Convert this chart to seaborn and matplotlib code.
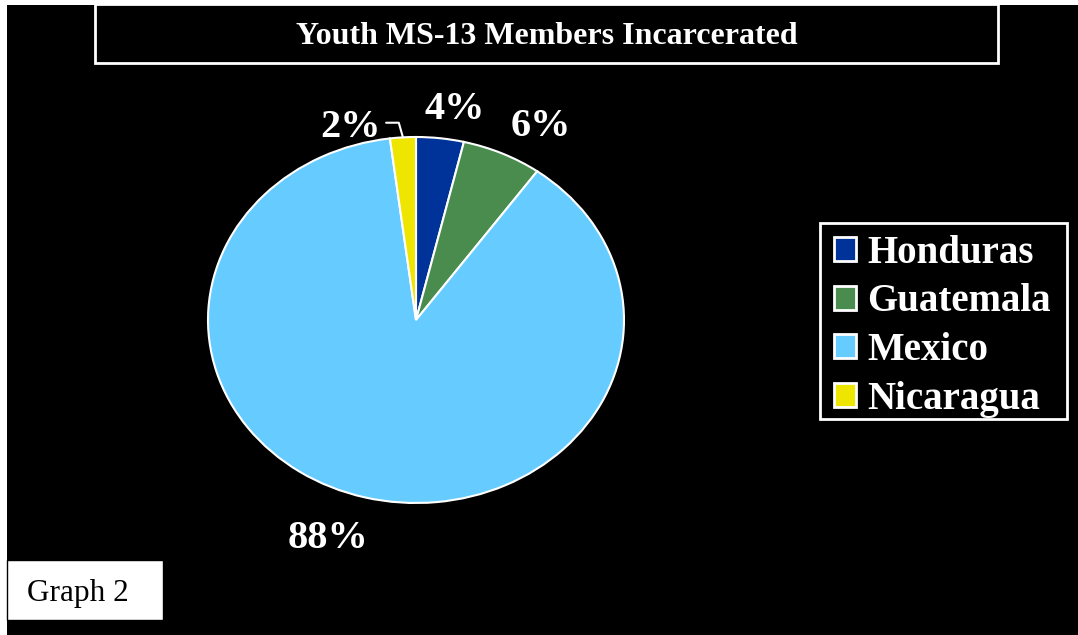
import numpy as np
import matplotlib
matplotlib.use("Agg")
import matplotlib.pyplot as plt
from matplotlib.patches import Rectangle
import seaborn as sns

sns.set_theme(style="white")
plt.rcParams['font.family'] = ['Liberation Serif', 'DejaVu Serif']

countries = ['Honduras', 'Guatemala', 'Mexico', 'Nicaragua']
shares = [3.7, 6.2, 88.1, 2.0]
colors = ['#003399', '#4a8c4e', '#66ccff', '#eee600']
title = 'Youth MS-13 Members Incarcerated'
note = 'Graph 2'

W, H = 1078, 635
fig = plt.figure(figsize=(W / 100, H / 100), dpi=100)
fig.patch.set_facecolor('white')

# black panel with thin white margin on top and left
fig.add_artist(Rectangle((7 / W, 0), 1 - 7 / W, 1 - 5 / H, transform=fig.transFigure,
                         facecolor='black', edgecolor='none', zorder=0))

# title box
fig.add_artist(Rectangle((95 / W, 1 - 63 / H), (998 - 95) / W, (63 - 4) / H,
                         transform=fig.transFigure, facecolor='black',
                         edgecolor='white', lw=2, zorder=1))
fig.text(546.5 / W, 1 - 36 / H, title, color='white', fontsize=23,
         fontweight='bold', ha='center', va='center', zorder=2)

# pie axes: ellipse rx=208, ry=183 centred at (416, 320)
cx, cy, rx, ry, lim = 416, 320, 208, 183, 1.3
ax = fig.add_axes([(cx - lim * rx) / W, (H - cy - lim * ry) / H,
                   2 * lim * rx / W, 2 * lim * ry / H])
ax.set_facecolor('none')
wedges, _ = ax.pie(shares, colors=colors, startangle=90, counterclock=False,
                   wedgeprops=dict(edgecolor='white', linewidth=1.5))
ax.set_aspect('auto')
ax.set_xlim(-lim, lim)
ax.set_ylim(-lim, lim)
ax.axis('off')

# percent labels placed by wedge angle (radius, angle shift)
offsets = {0: (1.168, -2.6), 1: (1.214, -5.2), 2: (1.269, -5.3), 3: (1.096, 13.2)}
for i, w in enumerate(wedges):
    mid = np.deg2rad((w.theta1 + w.theta2) / 2)
    r, da = offsets[i]
    a = mid + np.deg2rad(da)
    ax.text(r * np.cos(a), r * np.sin(a), f'{shares[i]:.0f}%', color='white',
            fontsize=29, fontweight='bold', ha='center', va='center')

# leader line for the small Nicaragua slice
w = wedges[3]
mid = np.deg2rad((w.theta1 + w.theta2) / 2)
x0, y0 = np.cos(mid), np.sin(mid)
ax.plot([x0, x0 - 0.020, x0 - 0.081], [y0, y0 + 0.080, y0 + 0.080],
        color='white', lw=1.5, clip_on=False)

# legend (frame drawn separately)
fig.add_artist(Rectangle((820 / W, 1 - 419 / H), (1067 - 820) / W, (419 - 223) / H,
                         transform=fig.transFigure, facecolor='black',
                         edgecolor='white', lw=2, zorder=1))
leg = fig.legend(wedges, countries, loc='upper left',
                 bbox_to_anchor=(820 / W, 1 - 221 / H), frameon=False,
                 prop=dict(size=28, weight='bold'), handlelength=0.57,
                 handleheight=0.57, handletextpad=0.3, labelspacing=0.3,
                 borderpad=0.35, borderaxespad=0)
leg.set_zorder(2)
for t in leg.get_texts():
    t.set_color('white')
for hnd in leg.legend_handles:
    hnd.set_edgecolor('white')
    hnd.set_linewidth(2)

# "Graph 2" note box
fig.add_artist(Rectangle((7 / W, 1 - 620 / H), (163 - 7) / W, (620 - 560) / H,
                         transform=fig.transFigure, facecolor='white',
                         edgecolor='black', lw=1, zorder=3))
fig.text(27 / W, 1 - 594 / H, note, color='black', fontsize=22.5,
         ha='left', va='center', zorder=4)

fig.savefig('out.png', dpi=100, facecolor=fig.get_facecolor())
